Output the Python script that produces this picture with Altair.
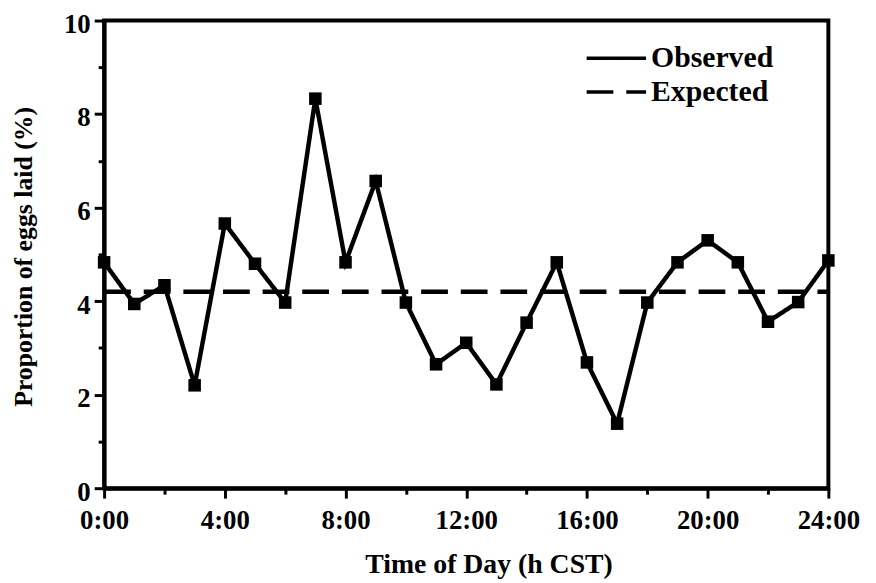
import altair as alt
import pandas as pd

hours = list(range(25))
observed = [4.83, 3.94, 4.34, 2.20, 5.66, 4.80, 3.97, 8.33, 4.83, 6.57, 3.97, 2.65, 3.11,
            2.22, 3.54, 4.83, 2.69, 1.38, 3.97, 4.83, 5.30, 4.83, 3.56, 3.98, 4.87]
expected_hours = [0, 24]
expected = [4.2, 4.2]
series_names = ["Observed", "Expected"]

obs_df = pd.DataFrame({"hour": hours, "value": observed, "series": "Observed"})
exp_df = pd.DataFrame({"hour": expected_hours, "value": expected, "series": "Expected"})
lines_df = pd.concat([obs_df, exp_df], ignore_index=True)

FONT = "Liberation Serif"

x_axis = alt.Axis(
    values=hours,
    labelExpr="datum.value % 4 === 0 ? datum.value + ':00' : ''",
    tickSize={"condition": {"test": "datum.value % 4 === 0", "value": 10}, "value": 6},
    tickWidth=3,
    tickColor="black",
    domainWidth=4,
    domainColor="black",
    labelFlush=False,
    labelFont=FONT,
    labelFontWeight="bold",
    labelFontSize=27,
    labelColor="black",
    labelPadding=10,
    grid=False,
    title="Time of Day (h CST)",
    titleFont=FONT,
    titleFontWeight="bold",
    titleFontSize=28,
    titleColor="black",
    titleX=388,
    titleY=85,
    titleAlign="center",
    titleBaseline="alphabetic",
)

y_axis = alt.Axis(
    values=list(range(11)),
    labelExpr="datum.value % 2 === 0 ? datum.value : ''",
    tickSize={"condition": {"test": "datum.value % 2 === 0", "value": 10}, "value": 6},
    tickWidth=3,
    tickColor="black",
    domainWidth=4,
    domainColor="black",
    labelFlush=False,
    labelOffset=4,
    labelFont=FONT,
    labelFontWeight="bold",
    labelFontSize=27,
    labelColor="black",
    labelPadding=4,
    grid=False,
    title="Proportion of eggs laid (%)",
    titleFont=FONT,
    titleFontWeight="bold",
    titleFontSize=26,
    titleColor="black",
    titleAngle=270,
    titleX=-73,
    titleY=238,
    titleAlign="center",
    titleBaseline="alphabetic",
)

x_enc = alt.X("hour:Q", scale=alt.Scale(domain=[0, 24], nice=False, zero=False), axis=x_axis)
y_enc = alt.Y("value:Q", scale=alt.Scale(domain=[0, 10], nice=False), axis=y_axis)

lines = alt.Chart(lines_df).mark_line(strokeWidth=4.5, color="black").encode(
    x=x_enc,
    y=y_enc,
    strokeDash=alt.StrokeDash(
        "series:N",
        scale=alt.Scale(domain=series_names, range=[[1, 0], [27, 13]]),
        legend=alt.Legend(
            title=None,
            orient="none",
            legendX=485,
            legendY=21,
            padding=0,
            symbolType="stroke",
            symbolSize=3600,
            symbolStrokeWidth=3.5,
            symbolStrokeColor="black",
            clipHeight=34,
            rowPadding=0,
            labelOffset=3,
            labelFont=FONT,
            labelFontWeight="bold",
            labelFontSize=30,
            labelColor="black",
        ),
    ),
    detail="series:N",
)

points = alt.Chart(obs_df).mark_point(shape="square", filled=True, size=160, color="black", opacity=1).encode(
    x=alt.X("hour:Q"),
    y=alt.Y("value:Q"),
)

chart = alt.layer(lines, points).properties(
    width=731,
    height=472,
    autosize=alt.AutoSizeParams(type="none"),
    padding={"left": 97, "top": 10, "right": 40, "bottom": 93},
    background="white",
).configure_view(stroke="black", strokeWidth=4)

chart.save("out.html", embed_options={"renderer": "svg", "actions": False})
